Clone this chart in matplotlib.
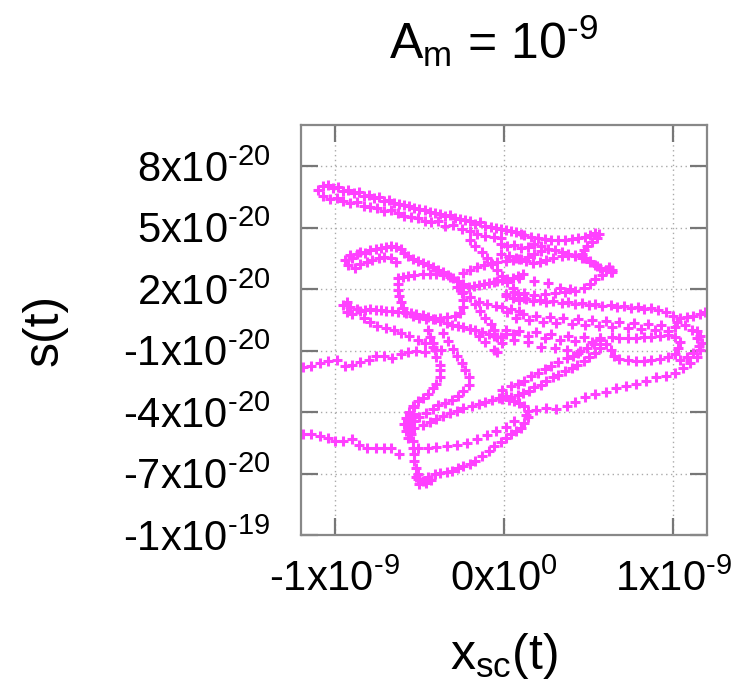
import numpy as np
import matplotlib
matplotlib.use("Agg")
import matplotlib.pyplot as plt

plt.rcParams['font.family'] = ['Liberation Sans', 'DejaVu Sans']
plt.rcParams['mathtext.fontset'] = 'custom'
plt.rcParams['mathtext.rm'] = 'Liberation Sans'
plt.rcParams['mathtext.it'] = 'Liberation Sans:italic'

X_UNIT = 1e-9
Y_UNIT = 1e-20

# trajectory pieces, x in 1e-9, y in 1e-20
top_upper = [(-1.10, 6.85), (-1.07, 7.05), (-1.04, 7.1), (-1.01, 6.95), (-0.98, 7.0), (-0.95, 6.8),
             (-0.92, 6.85), (-0.89, 6.7), (-0.86, 6.75), (-0.83, 6.55), (-0.80, 6.6), (-0.77, 6.45),
             (-0.74, 6.5), (-0.71, 6.3), (-0.68, 6.35), (-0.65, 6.2), (-0.62, 6.15), (-0.59, 6.1),
             (-0.56, 6.05), (-0.53, 5.95), (-0.50, 5.9), (-0.47, 5.85), (-0.44, 5.75), (-0.41, 5.7),
             (-0.38, 5.65), (-0.35, 5.55), (-0.32, 5.6), (-0.29, 5.45), (-0.26, 5.4), (-0.23, 5.35),
             (-0.20, 5.3), (-0.17, 5.2), (-0.14, 5.25), (-0.11, 5.1), (-0.08, 5.05), (-0.05, 5.0),
             (-0.02, 4.95), (0.01, 4.9), (0.04, 4.85), (0.07, 4.8), (0.10, 4.7)]
top_lower = [(-1.07, 6.55), (-1.03, 6.4), (-0.99, 6.45), (-0.95, 6.3), (-0.91, 6.2), (-0.87, 6.25),
             (-0.83, 6.05), (-0.79, 6.0), (-0.75, 5.95), (-0.71, 5.8), (-0.67, 5.85), (-0.63, 5.7),
             (-0.59, 5.55), (-0.55, 5.5), (-0.51, 5.45), (-0.47, 5.3), (-0.43, 5.25), (-0.39, 5.3),
             (-0.35, 5.1), (-0.30, 5.15), (-0.25, 4.95), (-0.20, 4.85), (-0.16, 4.7), (-0.11, 4.6),
             (-0.06, 4.55), (-0.02, 4.5)]
hook = [(0.12, 4.65), (0.16, 4.55), (0.20, 4.5), (0.24, 4.45), (0.28, 4.4), (0.32, 4.38), (0.36, 4.42),
        (0.40, 4.45), (0.44, 4.5), (0.48, 4.55), (0.51, 4.65), (0.54, 4.75), (0.56, 4.7), (0.55, 4.5),
        (0.52, 4.3), (0.49, 4.1), (0.47, 3.9), (0.46, 3.7), (0.48, 3.5), (0.51, 3.35), (0.54, 3.2),
        (0.57, 3.05), (0.60, 2.95), (0.63, 2.85), (0.64, 2.95), (0.62, 3.1)]
hook_lower = [(-0.02, 3.7), (0.03, 3.6), (0.07, 3.5), (0.10, 3.45), (0.14, 3.55), (0.18, 3.7),
              (0.22, 3.85), (0.26, 3.95), (0.30, 3.9), (0.34, 3.8), (0.38, 3.7), (0.42, 3.65), (0.46, 3.6)]
hook_mid = [(-0.02, 4.2), (0.02, 4.1), (0.06, 4.15), (0.10, 4.0), (0.14, 4.05), (0.18, 4.2), (0.22, 4.1)]
loose_dots = [(0.09, 2.55), (0.18, 2.4), (0.26, 2.3), (0.33, 2.05), (0.39, 2.0)]

mid_row = [(-0.94, 3.42), (-0.91, 3.67), (-0.90, 3.52), (-0.87, 3.72), (-0.85, 3.81), (-0.82, 3.76),
           (-0.79, 3.91), (-0.76, 3.96), (-0.73, 4.01), (-0.70, 4.06), (-0.67, 4.11), (-0.64, 4.06),
           (-0.61, 3.96), (-0.59, 3.76), (-0.57, 3.62), (-0.54, 3.47), (-0.51, 3.37), (-0.48, 3.27),
           (-0.45, 3.18), (-0.42, 3.08), (-0.39, 2.93), (-0.36, 2.83), (-0.33, 2.69), (-0.30, 2.54),
           (-0.27, 2.39), (-0.24, 2.25), (-0.21, 2.10), (-0.18, 2.15), (-0.15, 2.2), (-0.12, 2.25),
           (-0.09, 2.29), (-0.06, 2.34), (-0.04, 2.39), (-0.01, 2.44), (0.02, 2.49), (0.05, 2.54),
           (0.08, 2.64), (0.11, 2.74)]
mid_row_b = [(-0.92, 3.18), (-0.88, 3.03), (-0.85, 3.22), (-0.81, 3.32), (-0.78, 3.42), (-0.74, 3.52),
             (-0.71, 3.57), (-0.67, 3.52), (-0.64, 3.32)]
centre_loop = [(-0.63, 2.54), (-0.63, 2.25), (-0.63, 1.95), (-0.62, 1.66), (-0.61, 1.36), (-0.60, 1.07),
               (-0.58, 0.82), (-0.54, 0.68), (-0.50, 0.58), (-0.46, 0.53), (-0.42, 0.53), (-0.38, 0.58),
               (-0.34, 0.63), (-0.29, 0.68), (-0.26, 0.82), (-0.24, 1.12), (-0.24, 1.46), (-0.25, 1.80),
               (-0.26, 2.10), (-0.28, 2.39), (-0.32, 2.59), (-0.36, 2.69), (-0.40, 2.74), (-0.44, 2.74),
               (-0.48, 2.74), (-0.53, 2.69), (-0.57, 2.64), (-0.60, 2.59)]
low_row = [(-0.95, 1.22), (-0.93, 1.36), (-0.91, 1.12), (-0.93, 0.87), (-0.90, 0.77), (-0.87, 1.02),
           (-0.85, 0.92), (-0.82, 0.97), (-0.79, 1.02), (-0.76, 0.97), (-0.73, 0.97), (-0.70, 0.92),
           (-0.66, 0.92), (-0.63, 0.87), (-0.59, 0.87), (-0.55, 0.82), (-0.52, 0.77), (-0.48, 0.73),
           (-0.45, 0.63), (-0.41, 0.53), (-0.38, 0.43), (-0.34, 0.33), (-0.31, 0.24), (-0.27, 0.19),
           (-0.24, 0.14), (-0.20, 0.04), (-0.17, -0.01), (-0.13, -0.11), (-0.09, -0.21), (-0.06, -0.30),
           (-0.02, -0.35)]
low_dotted = [(-0.83, 0.58), (-0.79, 0.38), (-0.75, 0.19), (-0.70, 0.09), (-0.65, -0.01), (-0.61, -0.16),
              (-0.56, -0.30), (-0.51, -0.50), (-0.47, -0.65), (-0.42, -0.84), (-0.37, -0.99)]
left_dotted = [(-1.19, -1.82), (-1.14, -1.73), (-1.09, -1.63), (-1.04, -1.53), (-0.99, -1.48),
               (-0.94, -1.73), (-0.90, -1.68), (-0.85, -1.58), (-0.80, -1.48), (-0.76, -1.28),
               (-0.71, -1.24), (-0.66, -1.38), (-0.61, -1.19), (-0.57, -1.09), (-0.52, -1.04), (-0.47, -1.09)]
v_outer = [(-0.45, -0.01), (-0.44, -0.35), (-0.42, -0.65), (-0.41, -0.99), (-0.40, -1.33), (-0.38, -1.68),
           (-0.38, -1.97), (-0.38, -2.31), (-0.40, -2.61), (-0.42, -2.85), (-0.45, -3.10), (-0.48, -3.29),
           (-0.51, -3.44), (-0.53, -3.74), (-0.54, -4.08), (-0.55, -4.32), (-0.57, -4.57), (-0.57, -4.81),
           (-0.55, -5.06), (-0.54, -5.40), (-0.54, -5.75), (-0.53, -6.04), (-0.53, -6.38), (-0.52, -6.73),
           (-0.51, -7.02), (-0.51, -7.26), (-0.48, -7.36)]
v_outer_b = [(-0.54, -3.69), (-0.56, -3.98), (-0.58, -4.28), (-0.59, -4.57), (-0.58, -4.91), (-0.57, -5.26)]
bottom_loop = [(-0.45, -7.17), (-0.41, -7.02), (-0.38, -6.97), (-0.34, -6.92), (-0.31, -6.87),
               (-0.27, -6.73), (-0.24, -6.63), (-0.20, -6.53), (-0.17, -6.38), (-0.13, -6.14), (-0.09, -5.89),
               (-0.06, -5.65), (-0.02, -5.45), (0.01, -5.25), (0.04, -5.06), (0.07, -4.91), (0.10, -4.76),
               (0.12, -4.52), (0.14, -4.23), (0.14, -3.93), (0.12, -3.69), (0.09, -3.54), (0.06, -3.44),
               (0.03, -3.39), (-0.01, -3.34)]
bottom_blob = [(-0.52, -7.17), (-0.50, -7.51), (-0.46, -7.46), (-0.43, -7.31)]
v_inner = [(-0.36, -0.16), (-0.33, -0.55), (-0.30, -0.94), (-0.28, -1.28), (-0.25, -1.63), (-0.23, -1.97),
           (-0.21, -2.31), (-0.21, -2.66), (-0.24, -2.95), (-0.27, -3.20), (-0.31, -3.39), (-0.35, -3.54),
           (-0.39, -3.64), (-0.42, -3.83), (-0.46, -4.03), (-0.50, -4.23), (-0.53, -4.42), (-0.56, -4.62)]
rising = [(-0.53, -4.76), (-0.48, -4.62), (-0.44, -4.47), (-0.40, -4.32), (-0.36, -4.18), (-0.32, -4.03),
          (-0.28, -3.93), (-0.24, -3.78), (-0.19, -3.69), (-0.15, -3.59), (-0.11, -3.49), (-0.07, -3.39),
          (-0.03, -3.29), (0.01, -3.20), (0.04, -3.25), (0.08, -3.15), (0.11, -3.05), (0.15, -2.95),
          (0.18, -2.80), (0.22, -2.66), (0.25, -2.46), (0.29, -2.31), (0.32, -2.17), (0.36, -2.02),
          (0.40, -1.87), (0.43, -1.68), (0.47, -1.53), (0.50, -1.33), (0.54, -1.14), (0.57, -0.89)]
rising_b = [(-0.01, -2.90), (0.04, -2.75), (0.08, -2.61), (0.12, -2.46), (0.16, -2.26), (0.20, -2.07),
            (0.24, -1.92), (0.28, -1.77), (0.32, -1.58), (0.37, -1.38), (0.41, -1.24), (0.45, -1.04),
            (0.49, -0.89), (0.53, -0.70), (0.57, -0.50)]
long_dotted = [(-1.19, -5.06), (-1.14, -5.06), (-1.09, -5.16), (-1.04, -5.25), (-1.00, -5.40),
               (-0.95, -5.40), (-0.90, -5.30), (-0.86, -5.60), (-0.81, -5.75), (-0.76, -5.75),
               (-0.71, -5.75), (-0.67, -5.75), (-0.62, -6.04), (-0.51, -5.75), (-0.45, -5.75),
               (-0.40, -5.70), (-0.34, -5.65), (-0.28, -5.60), (-0.22, -5.50), (-0.16, -5.30),
               (-0.10, -5.11), (-0.05, -4.91), (0.01, -4.72), (0.06, -4.42), (0.13, -4.13), (0.19, -3.88),
               (0.25, -3.78), (0.31, -3.83), (0.37, -3.69), (0.42, -3.49), (0.48, -3.25), (0.54, -3.10),
               (0.60, -3.00), (0.66, -2.85), (0.72, -2.75), (0.78, -2.61), (0.84, -2.46), (0.90, -2.31),
               (0.96, -2.22), (1.01, -2.07), (1.06, -1.87), (1.10, -1.63), (1.14, -1.33), (1.16, -0.99),
               (1.17, -0.65), (1.16, -0.30), (1.14, -0.06)]
right_top = [(0.01, 1.66), (0.05, 1.56), (0.09, 1.46), (0.13, 1.51), (0.17, 1.41), (0.21, 1.46),
             (0.25, 1.36), (0.29, 1.41), (0.34, 1.31), (0.38, 1.36), (0.42, 1.26), (0.46, 1.31),
             (0.50, 1.22), (0.54, 1.26), (0.58, 1.17), (0.63, 1.22), (0.67, 1.12), (0.71, 1.17),
             (0.75, 1.07), (0.79, 1.12), (0.83, 1.02), (0.87, 1.07), (0.91, 0.97), (0.96, 0.87),
             (1.00, 0.68), (1.04, 0.58), (1.08, 0.63), (1.12, 0.68), (1.16, 0.77), (1.19, 0.87)]
right_mid = [(0.02, 0.87), (0.07, 0.58), (0.11, 0.77), (0.15, 0.48), (0.19, 0.68), (0.23, 0.38),
             (0.27, 0.63), (0.31, 0.33), (0.35, 0.58), (0.40, 0.28), (0.44, 0.53), (0.48, 0.24),
             (0.52, 0.48), (0.56, 0.19), (0.60, 0.43), (0.64, 0.14), (0.68, 0.38), (0.73, 0.09),
             (0.77, 0.33), (0.81, 0.04), (0.85, 0.28), (0.89, -0.01), (0.93, 0.24), (0.97, -0.06), (1.01, 0.14)]
right_oval = [(0.57, -0.40), (0.60, -0.70), (0.63, -0.99), (0.65, -1.28), (0.68, -1.43), (0.73, -1.48),
              (0.78, -1.53), (0.83, -1.53), (0.87, -1.48), (0.92, -1.43), (0.97, -1.33), (1.01, -1.19),
              (1.03, -0.89), (1.04, -0.60), (1.01, -0.35), (0.97, -0.25), (0.92, -0.30), (0.87, -0.35),
              (0.83, -0.35), (0.78, -0.40), (0.73, -0.40), (0.68, -0.40), (0.64, -0.35)]
right_loop = [(1.02, 0.38), (1.07, 0.24), (1.11, -0.01), (1.14, -0.40), (1.15, -0.79), (1.12, -1.14),
              (1.08, -1.33), (1.04, -1.48)]
right_low = [(0.01, -0.01), (0.05, -0.21), (0.09, -0.06), (0.14, -0.30), (0.19, -0.11), (0.24, -0.40),
             (0.28, -0.21), (0.33, -0.50), (0.38, -0.30), (0.42, -0.55), (0.47, -0.35), (0.52, -0.60),
             (0.57, -0.40)]
short_tail = [(-0.20, 0.04), (-0.15, -0.30), (-0.11, -0.60), (-0.06, -0.99), (-0.04, -1.09)]
mid_dotted = [(0.01, -0.21), (0.06, -0.50), (0.14, -0.60), (0.22, -0.84), (0.30, -0.89), (0.37, -0.99),
              (0.44, -1.14)]
upper_link = [(-0.24, 2.78), (-0.20, 2.93), (-0.16, 3.08), (-0.12, 3.18), (-0.08, 3.27), (-0.04, 3.32),
              (0.01, 3.37), (0.05, 3.42), (0.09, 3.47), (0.13, 3.37), (0.17, 3.27), (0.21, 3.32),
              (0.25, 3.42), (0.29, 3.52), (0.34, 3.62), (0.38, 3.67), (0.42, 3.62), (0.46, 3.52),
              (0.51, 3.32), (0.55, 3.13), (0.60, 2.93), (0.64, 2.83)]
loop_exit = [(-0.28, 2.10), (-0.24, 1.85), (-0.20, 1.61), (-0.15, 1.36), (-0.10, 1.26), (-0.05, 1.17),
             (-0.01, 1.12), (0.04, 1.02), (0.09, 0.92)]
loop_drop = [(-0.20, 1.61), (-0.17, 1.27), (-0.14, 0.92), (-0.11, 0.58), (-0.08, 0.28), (-0.06, -0.01),
             (-0.04, -0.35), (-0.01, -0.65)]
down_link = [(-0.20, 4.40), (-0.17, 4.11), (-0.13, 3.81), (-0.10, 3.52), (-0.07, 3.22), (-0.04, 2.93),
             (-0.01, 2.64), (0.02, 2.34), (0.05, 2.05), (0.08, 1.75), (0.12, 1.56)]
under_hook = [(0.01, 1.75), (0.06, 1.85), (0.12, 1.80), (0.18, 1.71), (0.24, 1.75), (0.30, 1.80),
              (0.36, 1.85), (0.42, 1.90), (0.47, 2.05), (0.51, 2.25), (0.54, 2.49), (0.58, 2.69)]

pieces = [top_upper, top_lower, hook, hook_lower, hook_mid, loose_dots, mid_row, mid_row_b,
          centre_loop, low_row, low_dotted, left_dotted, v_outer, v_outer_b, bottom_loop,
          bottom_blob, v_inner, rising, rising_b, long_dotted, right_top, right_mid, right_oval,
          right_loop, right_low, short_tail, mid_dotted, upper_link, loop_exit, loop_drop,
          down_link, under_hook]

x_ticks = [-1, 0, 1]
x_tick_labels = ['-1x10$^{\\text{-9}}$', '0x10$^{0}$', '1x10$^{\\text{-9}}$']
y_ticks = [8, 5, 2, -1, -4, -7, -10]
y_tick_labels = ['8x10$^{\\text{-20}}$', '5x10$^{\\text{-20}}$', '2x10$^{\\text{-20}}$',
                 '-1x10$^{\\text{-20}}$', '-4x10$^{\\text{-20}}$', '-7x10$^{\\text{-20}}$',
                 '-1x10$^{\\text{-19}}$']

pts = np.array([p for piece in pieces for p in piece])
xs = pts[:, 0] * X_UNIT
ys = pts[:, 1] * Y_UNIT

fig = plt.figure(figsize=(7.38, 6.82), dpi=100)
ax = fig.add_axes([0.408, 0.2155, 0.55, 0.601])

ax.plot(xs, ys, linestyle='none', marker='+', markersize=7.5, markeredgewidth=2.2,
        color='#ff40ff')

ax.set_xlim(-1.2e-9, 1.2e-9)
ax.set_ylim(-1e-19, 1e-19)
ax.set_xticks([t * X_UNIT for t in x_ticks])
ax.set_xticklabels(x_tick_labels)
ax.set_yticks([t * Y_UNIT for t in y_ticks])
ax.set_yticklabels(y_tick_labels)

ax.tick_params(direction='in', length=12, width=1.6, color='#777777',
               top=True, right=True, labelsize=30, pad=22)
ax.tick_params(axis='x', pad=18)
for sp in ax.spines.values():
    sp.set_color('#888888')
    sp.set_linewidth(1.6)
ax.grid(True, color='#aaaaaa', linestyle=(0, (1, 2.5)), linewidth=1.0)
ax.set_axisbelow(True)

ax.set_xlabel('x$_\\mathrm{sc}$(t)', fontsize=36, labelpad=22)
ax.set_ylabel('s(t)', fontsize=36, labelpad=40)
ax.set_title('A$_\\mathrm{m}$ = 10$^{\\text{-9}}$', fontsize=36, pad=48, x=0.475)

fig.savefig('out.png', dpi=100)
